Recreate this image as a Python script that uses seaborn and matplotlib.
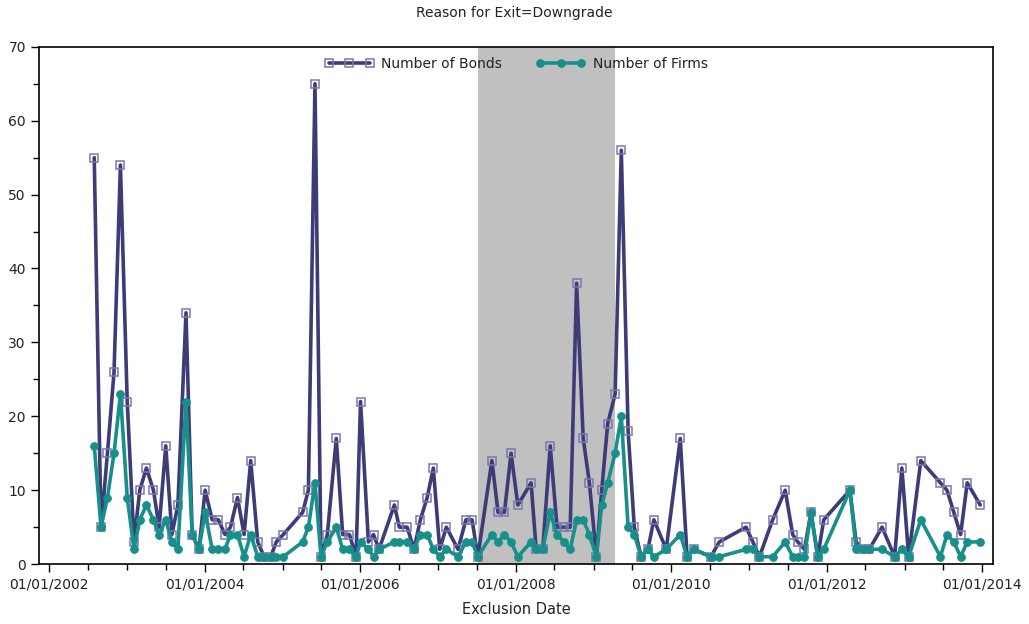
import matplotlib
matplotlib.use("Agg")
import matplotlib.pyplot as plt
import matplotlib.dates as mdates
import pandas as pd
import seaborn as sns

title = "Reason for Exit=Downgrade"
x_label = "Exclusion Date"
series_names = ["Number of Bonds", "Number of Firms"]

dates = [
    "2002-07-31", "2002-09-01", "2002-10-01", "2002-11-01", "2002-12-01", "2003-01-02",
    "2003-02-03", "2003-03-02", "2003-04-02", "2003-05-05", "2003-06-01", "2003-07-02",
    "2003-07-31", "2003-08-28", "2003-10-05", "2003-11-03", "2003-12-05", "2004-01-03",
    "2004-02-05", "2004-03-05", "2004-04-05", "2004-05-01", "2004-06-03", "2004-07-04",
    "2004-08-04", "2004-09-06", "2004-10-06", "2004-11-06", "2004-12-02", "2005-01-04",
    "2005-04-05", "2005-05-02", "2005-06-02", "2005-06-30", "2005-07-30", "2005-09-10",
    "2005-10-10", "2005-11-11", "2005-12-12", "2006-01-02", "2006-02-08", "2006-03-04",
    "2006-03-30", "2006-06-10", "2006-07-03", "2006-08-09", "2006-09-10", "2006-10-10",
    "2006-11-11", "2006-12-10", "2007-01-09", "2007-02-09", "2007-04-05", "2007-05-12",
    "2007-06-10", "2007-07-07", "2007-09-11", "2007-10-10", "2007-11-09", "2007-12-10",
    "2008-01-11", "2008-03-13", "2008-04-06", "2008-05-07", "2008-06-11", "2008-07-13",
    "2008-08-15", "2008-09-13", "2008-10-13", "2008-11-13", "2008-12-12", "2009-01-14",
    "2009-02-08", "2009-03-08", "2009-04-12", "2009-05-11", "2009-06-12", "2009-07-11",
    "2009-08-12", "2009-09-13", "2009-10-11", "2009-12-08", "2010-02-12", "2010-03-16",
    "2010-04-16", "2010-07-06", "2010-08-14", "2010-12-18", "2011-01-19", "2011-02-19",
    "2011-04-22", "2011-06-20", "2011-07-25", "2011-08-18", "2011-09-18", "2011-10-19",
    "2011-11-20", "2011-12-18", "2012-04-19", "2012-05-18", "2012-06-18", "2012-07-19",
    "2012-09-17", "2012-11-15", "2012-12-19", "2013-01-20", "2013-03-18", "2013-06-18",
    "2013-07-19", "2013-08-20", "2013-09-21", "2013-10-22", "2013-12-22",
]

bonds = [
    55, 5, 15, 26, 54, 22,
    3, 10, 13, 10, 5, 16,
    4, 8, 34, 4, 2, 10,
    6, 6, 4, 5, 9, 4,
    14, 3, 1, 1, 3, 4,
    7, 10, 65, 1, 4, 17,
    4, 4, 1, 22, 3, 4,
    2, 8, 5, 5, 2, 6,
    9, 13, 2, 5, 2, 6,
    6, 1, 14, 7, 7, 15,
    8, 11, 2, 2, 16, 5,
    5, 5, 38, 17, 11, 1,
    10, 19, 23, 56, 18, 5,
    1, 2, 6, 2, 17, 1,
    2, 1, 3, 5, 3, 1,
    6, 10, 4, 3, 2, 7,
    1, 6, 10, 3, 2, 2,
    5, 1, 13, 1, 14, 11,
    10, 7, 4, 11, 8,
]

firms = [
    16, 5, 9, 15, 23, 9,
    2, 6, 8, 6, 4, 6,
    3, 2, 22, 4, 2, 7,
    2, 2, 2, 4, 4, 1,
    4, 1, 1, 1, 1, 1,
    3, 5, 11, 1, 3, 5,
    2, 2, 1, 3, 2, 1,
    2, 3, 3, 3, 2, 4,
    4, 2, 1, 2, 1, 3,
    3, 1, 4, 3, 4, 3,
    1, 3, 2, 2, 7, 4,
    3, 2, 6, 6, 4, 1,
    8, 11, 15, 20, 5, 4,
    1, 2, 1, 2, 4, 1,
    2, 1, 1, 2, 2, 1,
    1, 3, 1, 1, 1, 7,
    1, 2, 10, 2, 2, 2,
    2, 1, 2, 1, 6, 1,
    4, 3, 1, 3, 3,
]

shade_start = "2007-07-07"
shade_end = "2009-04-12"
y_ticks = [0, 10, 20, 30, 40, 50, 60, 70]

df = pd.DataFrame({"date": pd.to_datetime(dates), "bonds": bonds, "firms": firms})

sns.set_theme(style="ticks")
plt.rcParams["font.family"] = ["DejaVu Sans"]

fig = plt.figure(figsize=(10.29, 6.24), dpi=100)
ax = fig.add_axes([0.038, 0.096, 0.927, 0.829])

ax.axvspan(pd.Timestamp(shade_start), pd.Timestamp(shade_end), color="#c0c0c0", zorder=0, lw=0)

purple = "#3d3b78"
teal = "#178f8a"
sns.lineplot(data=df, x="date", y="bonds", ax=ax, color=purple, lw=2.6,
             marker="s", markersize=5.5, markerfacecolor="none",
             markeredgecolor="#7a78b0", markeredgewidth=1.1,
             label=series_names[0], zorder=3)
sns.lineplot(data=df, x="date", y="firms", ax=ax, color=teal, lw=2.6,
             marker="o", markersize=5.5, markerfacecolor=teal,
             markeredgecolor=teal, label=series_names[1], zorder=4)

ax.set_ylim(0, 70)
ax.set_yticks(y_ticks)
ax.yaxis.set_minor_locator(matplotlib.ticker.MultipleLocator(5))
ax.set_xlim(pd.Timestamp("2001-11-14"), pd.Timestamp("2014-02-20"))
ax.xaxis.set_major_locator(mdates.YearLocator(2))
ax.xaxis.set_major_formatter(mdates.DateFormatter("%m/%d/%Y"))
ax.xaxis.set_minor_locator(mdates.MonthLocator(bymonth=[1, 7]))

for s in ax.spines.values():
    s.set_color("black")
    s.set_linewidth(1.2)
ax.tick_params(axis="both", which="major", length=6, width=1, color="black",
               labelsize=10, labelcolor="#222222", direction="out")
ax.tick_params(axis="both", which="minor", length=4, width=1, color="black", direction="out")

ax.set_xlabel(x_label, fontsize=10.5, color="#222222", labelpad=8)
ax.set_ylabel("")
fig.suptitle(title, x=0.5, y=0.99, fontsize=10, color="#222222")

leg = ax.legend(loc="upper center", ncol=2, frameon=False, numpoints=3,
                handlelength=3.6, columnspacing=2.4, fontsize=10,
                borderaxespad=0.3, handletextpad=0.5)
for t in leg.get_texts():
    t.set_color("#222222")

fig.savefig("out.png", dpi=100)
